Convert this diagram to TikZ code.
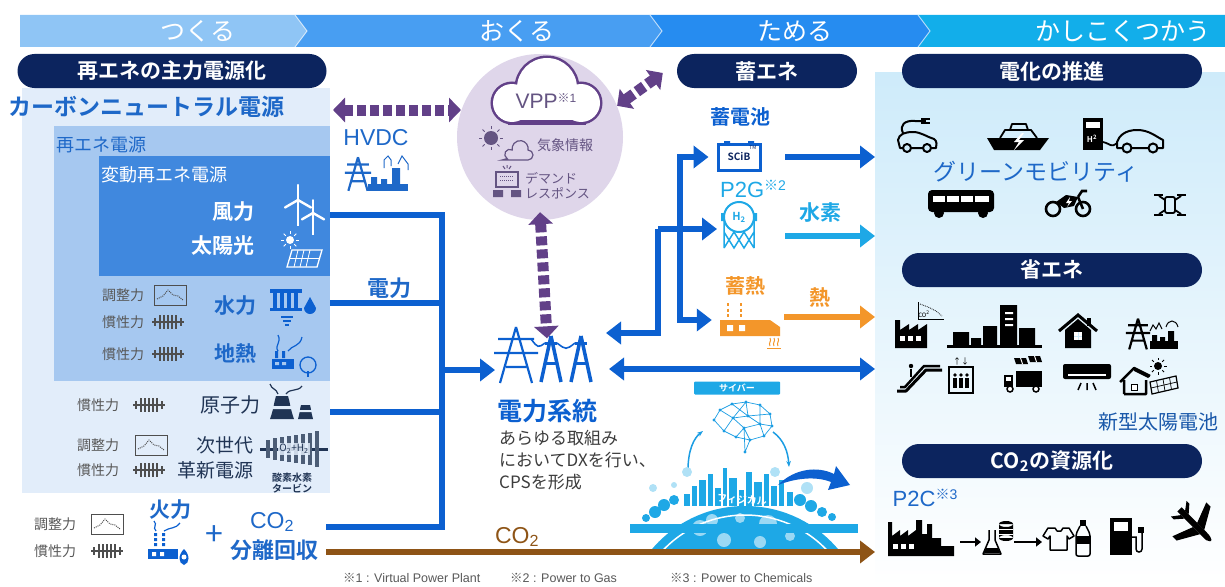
\documentclass[tikz,border=0pt]{standalone}
\usepackage{fontspec}
\setmainfont{Noto Sans CJK JP}[BoldFont={Noto Sans CJK JP Bold}]
\newfontfamily\arial{Liberation Sans}
\usetikzlibrary{arrows.meta, positioning, calc}

\definecolor{pillnavy}{RGB}{12, 36, 94}
\definecolor{gridblue}{RGB}{12, 96, 208}
\definecolor{textblue}{RGB}{30, 104, 200}
\definecolor{skyblue}{RGB}{30, 168, 230}
\definecolor{heatorange}{RGB}{243, 150, 42}
\definecolor{co2brown}{RGB}{142, 84, 22}
\definecolor{vppurple}{RGB}{98, 64, 136}
\definecolor{vpplight}{RGB}{223, 214, 234}
\definecolor{vpptext}{RGB}{100, 84, 130}
\definecolor{panelpale}{RGB}{226, 237, 250}
\definecolor{panelmid}{RGB}{166, 200, 240}
\definecolor{paneldeep}{RGB}{64, 136, 222}
\definecolor{bandA}{RGB}{143, 197, 245}
\definecolor{bandB}{RGB}{72, 158, 242}
\definecolor{bandC}{RGB}{38, 140, 240}
\definecolor{bandD}{RGB}{18, 174, 234}
\definecolor{usetop}{RGB}{206, 235, 250}
\definecolor{labelgray}{RGB}{88, 88, 88}
\definecolor{icongray}{RGB}{78, 78, 78}
\definecolor{nucnavy}{RGB}{32, 52, 84}
\definecolor{bodytext}{RGB}{60, 60, 60}

\newcommand{\fsz}[1]{\fontsize{#1}{#1}\selectfont}
\newcommand{\kome}{{\rmfamily ※}}

\tikzset{
  pill/.style={fill=pillnavy, text=white, rounded corners=17pt,
    minimum height=34pt, inner sep=0pt, font=\fsz{21}\bfseries},
  stage/.style={text=white, font=\fsz{25}},
  power/.style={draw=gridblue, line width=6pt},
  flow/.style={power, -{Triangle[length=15pt, width=22pt]}},
  flows/.style={power, {Triangle[length=15pt, width=22pt]}-{Triangle[length=15pt, width=22pt]}},
  h2flow/.style={flow, draw=skyblue, fill=skyblue},
  heatflow/.style={flow, draw=heatorange, fill=heatorange},
  co2flow/.style={flow, draw=co2brown, fill=co2brown},
  vpplink/.style={draw=vppurple, line width=11pt, dash pattern=on 9pt off 4pt,
    {Triangle[length=12pt, width=24pt]}-{Triangle[length=12pt, width=24pt]}},
  keytext/.style={text=labelgray, font=\fsz{14}, anchor=west, inner sep=0pt},
  srcblue/.style={text=textblue, font=\fsz{21}\bfseries},
  note/.style={text=labelgray, font=\arial\fsz{12.5}, anchor=west, inner sep=0pt},
  pics/inertia/.style={code={
    \draw[icongray, line width=1.2pt] (-16,0) -- (16,0);
    \draw[icongray, line width=2.2pt] (-13,-4) -- (-13,4) (13,-4) -- (13,4);
    \foreach \dx in {-8,-4,0,4,8}
      \draw[icongray, line width=2.2pt] (\dx,-7) -- (\dx,7);
  }},
  pics/trend/.style={code={
    \draw[icongray, line width=1pt] (-16,-10) rectangle (16,10);
    \draw[icongray, line width=1pt, densely dotted] (-13,4) -- (-7,1) -- (-2,-5) -- (3,0) -- (8,1) -- (13,5);
  }},
  pics/pylon/.style={code={
    \draw[line width=2.2pt] (0,-14) -- (-8,14) (0,-14) -- (8,14)
      (-9,-8) -- (9,-8) (-11,-1) -- (11,-1) (-5,6) -- (5,6);
  }},
}

\begin{document}
\begin{tikzpicture}[x=1pt, y=-1pt]
\useasboundingbox (0,0) rectangle (1225,586);

% stage band
\fill[bandD] (918,15) -- (1225,15) -- (1225,47) -- (918,47) -- (930,31) -- cycle;
\fill[bandC] (650,15) -- (918,15) -- (930,31) -- (918,47) -- (650,47) -- (662,31) -- cycle;
\fill[bandB] (295,15) -- (650,15) -- (662,31) -- (650,47) -- (295,47) -- (307,31) -- cycle;
\fill[bandA] (20,15) -- (295,15) -- (307,31) -- (295,47) -- (20,47) -- cycle;
\foreach \bx in {295, 650, 918}
  \draw[white, opacity=0.6, line width=1pt] (\bx,15) -- (\bx+12,31) -- (\bx,47);
\node[stage] (make) at (198,31) {つくる};
\node[stage] (send) at (517,31) {おくる};
\node[stage] (store) at (795,31) {ためる};
\node[stage] (use) at (1123,31) {かしこくつかう};

% panels
\node[top color=usetop, bottom color=white, anchor=north west, minimum width=350, minimum height=514, inner sep=0] (usepanel) at (875,72) {};
\node[fill=panelpale, anchor=north west, minimum width=308, minimum height=405, inner sep=0] (cn) at (22,88) {};
\node[fill=panelmid, anchor=north west, minimum width=276, minimum height=255, inner sep=0] (rene) at (54,126) {};
\node[fill=paneldeep, anchor=north west, minimum width=231, minimum height=120, inner sep=0] (vre) at (99,156) {};

\node[pill, minimum width=309] (mainstream) at (172,71) {再エネの主力電源化};
\node[pill, minimum width=180] (storage) at (767,71) {蓄エネ};
\node[pill, minimum width=300] (electrify) at (1052,71) {電化の推進};
\node[pill, minimum width=300] (saving) at (1052,270) {省エネ};
\node[pill, minimum width=300] (co2use) at (1052,461) {CO\textsubscript{2}の資源化};

% generation side
\node[text=textblue, font=\fsz{23}\bfseries, anchor=west, inner sep=0] (cn title) at (8,107) {カーボンニュートラル電源};
\node[text=textblue, font=\fsz{18}, anchor=west, inner sep=0] (rene title) at (56,145) {再エネ電源};
\node[text=white, font=\fsz{18}, anchor=west, inner sep=0] (vre title) at (101,175) {変動再エネ電源};
\node[text=white, font=\fsz{21}\bfseries, anchor=east] (wind txt) at (258,212) {風力};
\node[text=white, font=\fsz{21}\bfseries, anchor=east] (pv txt) at (258,246) {太陽光};

\foreach \tx/\ty/\s in {298/200/1, 313/213/0.85} {
  \draw[white, line width=2pt] (\tx,\ty) -- ++(0,26*\s);
  \foreach \a in {270, 30, 150}
    \draw[white, line width=2.4pt, line cap=round] (\tx,\ty) -- ++(\a:15*\s);
}
\begin{scope}[white]
  \fill (290,240) circle (4);
  \foreach \a in {0,45,...,315} \draw[line width=1pt] (290,240) ++(\a:6) -- ++(\a:3);
  \draw[line width=1.3pt] (292,250) -- (322,250) -- (317,267) -- (287,267) -- cycle;
  \foreach \gx in {298,304,310} \draw[line width=0.8pt] (\gx,250) -- (\gx-4,267);
  \draw[line width=0.8pt] (290,258) -- (320,258);
\end{scope}

\node[keytext] at (102,295) {調整力};  \pic at (170,295) {trend};
\node[keytext] at (102,322) {慣性力};  \pic at (168,322) {inertia};
\node[keytext] at (102,354) {慣性力};  \pic at (168,354) {inertia};
\node[srcblue] (hydro txt) at (235,306) {水力};
\node[srcblue] (geo txt) at (235,354) {地熱};

\begin{scope}[shift={(290,308)}, gridblue]
  \fill (-20,-19) rectangle (12,-15);
  \foreach \gx in {-17,-10,-3,4} \fill (\gx,-15) rectangle ++(4,15);
  \fill (-20,0) rectangle (12,3);
  \fill (20,-11) -- (14,0) arc (180:0:6) -- cycle;
  \draw[line width=1.4pt] (-9,9) -- (3,9) (-7,13) -- (1,13) (-5,17) -- (-1,17);
\end{scope}
\begin{scope}[shift={(292,355)}, gridblue]
  \draw[line width=1.2pt] (-14,-4) .. controls (-18,-10) and (-10,-12) .. (-14,-20)
    (-4,-4) .. controls (0,-10) and (8,-8) .. (10,-18);
  \fill (-20,4) rectangle (2,14);
  \fill (-17,-4) rectangle (-14,3) (-10,-4) rectangle (-7,3);
  \fill[panelmid] (-17,7) rectangle (-13,10) (-10,7) rectangle (-6,10);
  \draw[line width=1.3pt] (16,10) circle (8);
  \draw[line width=1.3pt] (16,16) -- (16,22);
\end{scope}

\node[keytext] at (77,405) {慣性力};  \pic at (149,405) {inertia};
\node[text=nucnavy, font=\fsz{20}] (nuke txt) at (230,405) {原子力};
\begin{scope}[shift={(292,402)}, nucnavy]
  \fill (-22,17) .. controls (-18,6) and (-18,0) .. (-16,-6) -- (-4,-6) .. controls (-2,0) and (-2,6) .. (2,17) -- cycle;
  \fill (6,17) .. controls (8,10) and (8,6) .. (9,3) -- (18,3) .. controls (19,6) and (19,10) .. (21,17) -- cycle;
  \fill[panelpale] (-20,4) rectangle (0,7) (7,8) rectangle (20,10);
  \draw[line width=1.2pt] (-14,-8) .. controls (-16,-14) and (-20,-12) .. (-22,-18)
    (-6,-8) .. controls (-2,-14) and (6,-10) .. (10,-16);
\end{scope}

\node[keytext] at (77,445) {調整力};  \pic at (151,445) {trend};
\node[keytext] at (77,470) {慣性力};  \pic at (149,470) {inertia};
\node[text=nucnavy, font=\fsz{19}, anchor=east] at (257,445) {次世代};
\node[text=nucnavy, font=\fsz{19}, anchor=east] at (257,470) {革新電源};
\begin{scope}[shift={(292,449)}]
  \draw[nucnavy, line width=3pt] (-32,0) -- (36,0);
  \foreach \i/\h in {0/9,1/11,2/12,3/13,4/14,5/15,6/16,7/18}
    \fill[nucnavy!80!white] (-26+7*\i,-\h) rectangle (-22+7*\i,\h);
  \node[fill=panelpale, fill opacity=0.85, text opacity=1, text=nucnavy, font=\fsz{10}, inner sep=1pt] at (2,0) {O\textsubscript{2}+H\textsubscript{2}};
\end{scope}
\node[text=nucnavy, font=\fsz{10}\bfseries, inner sep=0] at (292,478) {酸素水素};
\node[text=nucnavy, font=\fsz{10}\bfseries, inner sep=0] at (292,489) {タービン};

\node[keytext] at (34,524) {調整力};  \pic at (107,524) {trend};
\node[keytext] at (34,551) {慣性力};  \pic at (107,551) {inertia};
\node[srcblue] (fire txt) at (170,510) {火力};
\begin{scope}[shift={(168,545)}, gridblue]
  \draw[line width=1.2pt] (-12,-14) .. controls (-16,-18) and (-10,-20) .. (-14,-24)
    (-4,-14) .. controls (2,-18) and (8,-16) .. (12,-22);
  \foreach \cx in {-14,-6} \fill (\cx,-12) rectangle ++(3,3) (\cx,-7) rectangle ++(3,3) (\cx,-2) rectangle ++(3,3);
  \fill (-20,4) rectangle (10,14);
  \fill[white] (-16,7) rectangle (-12,11) (-8,7) rectangle (-4,11);
  \fill (16,4) .. controls (22,10) and (22,18) .. (16,20) .. controls (10,18) and (10,10) .. (16,4);
  \fill[white] (16,12) circle (2.5);
\end{scope}
\node[text=textblue, font=\fsz{32}] at (214,536) {+};
\node[text=textblue, font=\arial\fsz{23}] at (272,522) {CO\textsubscript{2}};
\node[srcblue, font=\fsz{22}\bfseries] (ccs txt) at (274,550) {分離回収};

% power lines into the grid
\coordinate (feed wind) at (330,215);
\coordinate (feed hydro) at (330,303);
\coordinate (feed nuke) at (330,412);
\coordinate (feed fire) at (326,527);
\coordinate (bus top) at (442,215);
\coordinate (bus bottom) at (442,527);
\coordinate (bus out) at (442,370);
\coordinate (grid in) at (495,370);
\draw[power] (feed wind) -- (bus top) -- (bus bottom) -- (feed fire);
\draw[power] (feed hydro) -- (feed hydro -| bus top);
\draw[power] (feed nuke) -- (feed nuke -| bus top);
\draw[flow] (bus out) -- (grid in);
\node[srcblue, font=\fsz{22}\bfseries] (power txt) at (389,288) {電力};

% HVDC
\node[text=textblue, font=\arial\fsz{23}] (hvdc) at (376,138) {HVDC};
\pic[textblue, scale=1.2] at (358,174) {pylon};
\begin{scope}[textblue]
  \fill (368,184) rectangle (408,191);
  \fill (371,177) rectangle (377,184) (381,179) rectangle (387,184) (392,168) rectangle (400,184);
  \draw[line width=1pt] (384,168) -- (384,160) -- (388,156) -- (391,160) -- (391,166)
    (398,164) -- (402,156) -- (408,164) -- (408,170);
\end{scope}

% VPP
\node[circle, fill=vpplight, minimum size=166, inner sep=0] (vpp) at (540,137) {};
\begin{scope}
  \filldraw[vppurple, line width=5pt] (512,103) circle (19) (581,103) circle (19) (547,88) circle (30);
  \fill[vppurple] (508,100) rectangle (586,125);
  \fill[white] (512,103) circle (19) (581,103) circle (19) (547,88) circle (30);
  \fill[white] (512,103) rectangle (581,120);
\end{scope}
\node[text=vpptext, font=\arial\fsz{21}] (vpp txt) at (546,101) {VPP\raisebox{6pt}{\fsz{12}\kome 1}};
\begin{scope}[vpptext]
  \fill (491,138) circle (7);
  \foreach \a in {0,45,...,315} \draw[line width=1pt] (491,138) ++(\a:9) -- ++(\a:3);
  \filldraw[fill=vpplight, line width=1.2pt] (502,160) -- (528,160) arc (90:-90:5) arc (10:-190:8) arc (-60:-240:5) -- cycle;
\end{scope}
\node[text=vpptext, font=\fsz{14}, anchor=west, inner sep=0] (weather) at (537,145) {気象情報};
\begin{scope}[vpptext]
  \draw[line width=1.5pt] (496,172) rectangle (518,187);
  \foreach \dy in {176,180} \draw[densely dotted, line width=1pt] (500,\dy) -- (514,\dy);
  \draw[line width=1pt] (503,166) -- (505,169) (507,165) -- (507,168) (511,166) -- (509,169);
  \fill (493,190) rectangle (503,197) (511,190) rectangle (521,197);
\end{scope}
\node[text=vpptext, font=\fsz{13}, anchor=west, inner sep=0] at (525,178) {デマンド};
\node[text=vpptext, font=\fsz{13}, anchor=west, inner sep=0] at (525,193) {レスポンス};

% grid
\node[minimum width=92, minimum height=55, inner sep=0] (grid) at (547,354) {};
\pic[gridblue, scale=2] at (516,355) {pylon};
\begin{scope}[gridblue, line width=3.5pt]
  \foreach \px in {551,581} {
    \draw (\px,336) -- (\px-10,382) (\px,336) -- (\px+10,382);
    \draw[line width=3pt] (\px-6,343) -- (\px+6,343) (\px-7,363) -- (\px+7,363);
  }
  \draw[line width=1.6pt] (531,339) .. controls (538,348) .. (545,343)
    (557,343) .. controls (566,350) .. (575,343);
\end{scope}
\node[text=gridblue, font=\fsz{25}\bfseries] (grid txt) at (547,411) {電力系統};
\node[text=bodytext, font=\fontsize{17}{22}\selectfont, align=left, anchor=north west, inner sep=0] (dx txt) at (499,430)
  {あらゆる取組み\\においてDXを行い、\\CPSを形成};

\draw[vpplink] (333,110) -- (461,110);
\draw[vpplink] ([yshift=8]vpp.south) -- ([yshift=-12]grid.north);
\draw[vpplink] (vpp.22) -- ([xshift=-14,yshift=-2]storage.west);

% storage
\node[text=gridblue, font=\fsz{20}\bfseries] (battery txt) at (740,117) {蓄電池};
\node[draw=gridblue, line width=3pt, minimum width=42, minimum height=26, inner sep=0, text=pillnavy, font=\fsz{10}\bfseries] (scib) at (739,157) {SCiB};
\fill[gridblue] (724,141) rectangle (730,144) (748,141) rectangle (754,144);
\node[text=pillnavy, font=\fsz{5}, inner sep=0] at (753,148) {TM};
\node[text=skyblue, font=\arial\fsz{22}] (p2g txt) at (753,189) {P2G\raisebox{7pt}{\fsz{14}\kome 2}};
\node[circle, draw=skyblue, line width=2pt, minimum size=30, inner sep=0, text=skyblue, font=\fsz{11}\bfseries] (tank) at (739,217) {H\textsubscript{2}};
\draw[skyblue, line width=1.5pt] (724,220) -- (724,248) (754,220) -- (754,248)
  (724,248) -- (734,232) -- (744,248) -- (754,232) (724,232) -- (734,248) -- (744,232) -- (754,248);
\fill[skyblue] (721,213) rectangle (724,221) (754,213) rectangle (757,221);
\node[text=heatorange, font=\fsz{20}\bfseries] (heat store txt) at (745,286) {蓄熱};
\node[minimum width=60, minimum height=36, inner sep=0] (heatplant) at (749,320) {};
\begin{scope}[heatorange]
  \fill (720,320) -- (770,320) -- (780,327) -- (780,336) -- (720,336) -- cycle;
  \fill[white] (727,325) rectangle (733,331) (739,325) rectangle (745,331);
  \foreach \cx in {728,741} \draw[line width=2.5pt, dash pattern=on 3pt off 2.5pt] (\cx,303) -- (\cx,319);
  \draw[line width=1pt] (767,348) -- (781,348);
  \foreach \wx in {770,774,778}
    \draw[line width=1pt] (\wx,346) .. controls (\wx-2,343) and (\wx+2,341) .. (\wx,338);
\end{scope}

\coordinate (store fork) at (658,229);
\coordinate (store bus) at (680,229);
\coordinate (grid back) at (606,333);
\draw[flow] (store fork) |- (grid back);
\draw[power, line cap=rect] (store bus |- scib) -- (store bus |- heatplant);
\draw[flow] (store fork) -- ([xshift=-6]tank.west |- store fork);
\draw[flow] (store bus |- scib) -- ([xshift=-8]scib.west);
\draw[flow] (store bus |- heatplant) -- ([xshift=-7]heatplant.west);

\coordinate (battery out) at (785,157);
\coordinate (h2 out) at (785,236);
\coordinate (heat out) at (784,317);
\draw[flow] (battery out) -- (battery out -| usepanel.west);
\draw[h2flow] (h2 out) -- (h2 out -| usepanel.west);
\draw[heatflow] (heat out) -- (heat out -| usepanel.west);
\node[text=skyblue, font=\fsz{21}\bfseries] (h2 txt) at (820,213) {水素};
\node[text=heatorange, font=\fsz{21}\bfseries] (heat txt) at (820,298) {熱};
\coordinate (grid side) at (609,369);
\draw[flows] (grid side) -- (grid side -| usepanel.west);

% cyber physical loop
\node[fill=skyblue, text=white, font=\fsz{9}\bfseries, minimum width=86, minimum height=13, inner sep=0, rounded corners=1pt] (cyber) at (737,388) {サイバー};
\begin{scope}[skyblue!85!gridblue]
  \foreach \n/\p in {b1/{714,420}, b2/{720,410}, b3/{732,404}, b4/{746,402}, b5/{760,405},
      b6/{770,414}, b7/{772,426}, b8/{764,436}, b9/{750,440}, b10/{736,437}, b11/{724,431},
      b12/{733,418}, b13/{748,416}, b14/{760,424}, b15/{744,428}, b16/{745,452}}
    \coordinate (\n) at (\p);
  \draw[line width=0.7pt] (b1) -- (b2) -- (b3) -- (b4) -- (b5) -- (b6) -- (b7) -- (b8) -- (b9) -- (b10) -- (b11) -- (b1)
    (b2) -- (b12) -- (b4) -- (b13) -- (b6) (b12) -- (b13) -- (b14) -- (b7) (b12) -- (b15) -- (b14)
    (b11) -- (b12) (b3) -- (b13) (b5) -- (b14) (b15) -- (b10) (b15) -- (b9) (b14) -- (b8) (b9) -- (b16) (b15) -- (b16);
  \foreach \n in {b1,b2,b3,b4,b5,b6,b7,b8,b9,b10,b11,b12,b13,b14,b15,b16}
    \fill (\n) circle (1.6);
  \draw[line width=1.5pt, -{Stealth[length=6pt]}] (688,470) .. controls (688,450) and (694,438) .. (703,431);
  \draw[line width=1.5pt, -{Stealth[length=6pt]}] (773,432) .. controls (784,440) and (788,452) .. (789,467);
\end{scope}
\begin{scope}
  \clip (620,440) rectangle (870,548);
  \fill[skyblue] (745,628) circle (122);
  \fill[skyblue!45!white] (700,528) circle (8) (712,520) circle (6) (740,518) circle (5) (768,524) circle (9)
    (724,540) circle (7) (760,542) circle (6) (790,536) circle (5);
  \draw[white, line width=1.5pt] (745,628) circle (113);
\end{scope}
\fill[skyblue] (630,524) rectangle (858,533);
\begin{scope}[skyblue]
  \foreach \bx/\by/\bw in {684/494/6, 692/486/5, 699/480/7, 708/474/5, 715/488/6, 723/468/4, 729/478/8,
      739/490/5, 746/472/6, 754/482/8, 764/474/5, 771/486/6, 779/480/5, 787/492/6}
    \fill (\bx,506) rectangle ++(\bw,\by-506);
  \fill (655,512) circle (6) (664,505) circle (6) (674,500) circle (5) (800,500) circle (6) (811,506) circle (6)
    (822,512) circle (5) (832,517) circle (4) (646,518) circle (4);
  \fill[skyblue!35!white] (653,488) circle (4) (674,485) circle (3) (687,472) circle (5) (775,472) circle (5) (807,488) circle (6);
\end{scope}
\node[text=white, font=\fsz{10}\bfseries, inner sep=0, rotate=-4] (physical) at (742,500) {フィジカル};
\fill[gridblue] (778,485) .. controls (795,468) and (818,466) .. (834,474) -- (836,466) -- (850,485) -- (828,490) -- (831,482)
  .. controls (816,476) and (796,478) .. cycle;

% CO2 line
\coordinate (feed co2) at (326,552);
\draw[co2flow] (feed co2) -- (feed co2 -| usepanel.west);
\node[text=co2brown, font=\arial\fsz{23}] (co2 txt) at (517,537) {CO\textsubscript{2}};

% usage side
\begin{scope}[shift={(917,135)}, line width=2pt, line join=round]
  \draw (-17,13) -- (-19,5) .. controls (-18,-1) and (-12,-3) .. (-4,-3) .. controls (4,-3) and (10,2) .. (17,4) .. controls (20,6) and (20,10) .. (19,13) -- cycle;
  \filldraw[fill=usetop] (-10,13) circle (4) (10,13) circle (4);
  \draw (-14,-2) .. controls (-18,-10) and (-12,-15) .. (-2,-14) -- (4,-14);
  \fill (4,-17) rectangle (9,-11);
  \draw[line width=1.5pt] (9,-16) -- (13,-16) (9,-12) -- (13,-12);
\end{scope}
\begin{scope}[shift={(1018,136)}, line join=round]
  \fill (-31,2) -- (31,2) -- (22,14) -- (-24,14) -- cycle;
  \draw[line width=1.8pt] (-18,2) -- (-13,-6) -- (13,-6) -- (19,2);
  \draw[line width=1.8pt] (-8,-6) -- (-6,-12) -- (8,-12) -- (10,-6);
  \fill[white] (4,-3) -- (-4,6) -- (1,6) -- (-4,14) -- (6,4) -- (1,4) -- (6,-3) -- cycle;
\end{scope}
\begin{scope}[shift={(1093,134)}]
  \fill (-10,-16) rectangle (10,16);
  \fill[white] (-7,-12) rectangle (7,-6);
  \node[text=white, font=\fsz{8}\bfseries, inner sep=0] at (-1,5) {H\textsuperscript{2}};
  \draw[line width=1.8pt] (10,8) .. controls (18,10) and (18,14) .. (24,9);
  \draw[line width=2pt, line join=round] (24,14) -- (24,8) .. controls (26,2) and (32,-4) .. (44,-4) .. controls (56,-4) and (62,2) .. (70,6) -- (70,14) -- cycle;
  \filldraw[fill=usetop, line width=2pt] (34,14) circle (4.5) (60,14) circle (4.5);
\end{scope}
\node[text=textblue, font=\fsz{23}] (mobility) at (1036,172) {グリーンモビリティ};
\begin{scope}[shift={(961,203)}]
  \fill[rounded corners=4pt] (-33,-13) rectangle (33,9);
  \fill[white] (-28,-7) rectangle (28,-1);
  \foreach \wx in {-16,-2,12} \fill (\wx,-8) rectangle ++(2,8);
  \fill (-22,10) circle (5) (22,10) circle (5);
\end{scope}
\begin{scope}[shift={(1068,204)}, line width=2.6pt]
  \draw (-15,5) circle (7) (15,5) circle (7);
  \fill (-12,-2) -- (-2,-9) -- (10,-7) -- (6,2) -- (-4,4) -- cycle;
  \draw (10,-7) -- (14,-13) -- (19,-13) (15,5) -- (10,-7);
  \fill[white] (2,-7) -- (-2,-1) -- (1,-1) -- (-1,3) -- (4,-3) -- (1,-3) -- cycle;
\end{scope}
\begin{scope}[shift={(1170,205)}, line width=1.8pt]
  \draw[rounded corners=2pt] (-5,-8) rectangle (5,8);
  \draw (-5,-5) -- (-11,-9) (5,-5) -- (11,-9) (-5,5) -- (-11,9) (5,5) -- (11,9);
  \draw (-16,-10) -- (-7,-10) (7,-10) -- (16,-10) (-16,10) -- (-7,10) (7,10) -- (16,10);
\end{scope}

\begin{scope}[shift={(916,332)}]
  \fill (-21,16) -- (-21,-12) -- (-16,-12) -- (-16,-2) -- (-7,-8) -- (-7,-2) -- (2,-8) -- (2,-2) -- (11,-8) -- (11,16) -- cycle;
  \foreach \wx in {-16,-8,0} \fill[white] (\wx,4) rectangle ++(5,5);
  \draw[line width=0.8pt] (2,-30) -- (2,-13) -- (28,-13);
  \draw[line width=0.8pt, densely dotted] (4,-28) -- (12,-25) -- (20,-21) -- (26,-16);
  \node[font=\fsz{6}, inner sep=0] at (8,-18) {CO\textsuperscript{2}};
\end{scope}
\begin{scope}[shift={(995,332)}]
  \fill (-48,13) rectangle (47,16);
  \fill (-42,0) rectangle (-26,13) (-24,6) rectangle (-14,13) (-12,-6) rectangle (2,13)
    (5,-27) rectangle (22,13) (24,-4) rectangle (40,13);
  \fill[white] (10,-20) rectangle (18,-18) (10,-14) rectangle (18,-12) (10,-8) rectangle (18,-6);
\end{scope}
\begin{scope}[shift={(1078,332)}]
  \draw[line width=3pt, line join=miter] (-19,-1) -- (0,-17) -- (19,-1);
  \fill (-13,-2) -- (0,-13) -- (13,-2) -- (13,16) -- (-13,16) -- cycle;
  \fill[white] (-4,0) rectangle (4,8);
  \draw[usetop, line width=1pt] (0,0) -- (0,8) (-4,4) -- (4,4);
  \fill (9,-14) rectangle (13,-6);
\end{scope}
\pic[scale=1.1] at (1138,334) {pylon};
\begin{scope}[shift={(1162,335)}]
  \fill (-12,6) rectangle (16,14);
  \fill (-10,0) rectangle (-5,6) (-2,2) rectangle (3,6) (6,-4) rectangle (12,6);
  \draw[line width=1pt] (-12,-4) -- (-9,-10) -- (-6,-6) -- (-3,-12) -- (0,-6)
    (4,-8) .. controls (6,-16) and (14,-16) .. (16,-8);
\end{scope}

\begin{scope}[shift={(920,378)}]
  \draw[line width=3pt, line join=round] (-23,13) -- (-14,13) -- (6,-8) -- (22,-8);
  \draw[line width=2.5pt, line join=round] (-20,9) -- (-15,9) -- (4,-12) -- (20,-12);
  \fill (-9,-12) circle (2.2);
  \draw[line width=1.5pt] (-9,-9) -- (-9,-1);
\end{scope}
\begin{scope}[shift={(961,380)}]
  \draw[line width=1.5pt] (-12,-13) rectangle (12,13);
  \foreach \fx in {-6,0,6} {
    \fill (\fx,-5) circle (1.8);
    \fill (\fx-2,-2) rectangle (\fx+2,8);
  }
  \node[font=\fsz{8}, inner sep=0] at (0,-19) {↑↓};
\end{scope}
\begin{scope}[shift={(1024,375)}]
  \fill (-8,-4) rectangle (18,12);
  \fill (-20,0) -- (-11,0) -- (-11,12) -- (-20,12) -- cycle;
  \fill[white] (-18,2) rectangle (-13,6);
  \filldraw[fill=white, line width=1.5pt] (-14,14) circle (3) (12,14) circle (3);
  \fill (-10,-17) -- (2,-17) -- (4,-11) -- (-8,-11) -- cycle (4,-19) -- (16,-19) -- (18,-13) -- (6,-13) -- cycle;
  \fill[white] (-4,-17) -- (-2,-11) -- (-1,-11) -- (-3,-17) -- cycle (10,-19) -- (12,-13) -- (13,-13) -- (11,-19) -- cycle;
\end{scope}
\begin{scope}[shift={(1087,373)}]
  \fill[rounded corners=2pt] (-24,-9) rectangle (24,6);
  \fill[white] (-19,1) rectangle (19,3);
  \draw[line width=1.5pt] (-6,10) -- (-9,17) (0,10) -- (0,17) (6,10) -- (9,17);
\end{scope}
\begin{scope}[shift={(1146,378)}]
  \draw[line width=2.5pt, line join=round] (-22,16) -- (-22,2) (-26,4) -- (-12,-10) -- (4,-2) (-22,16) -- (0,16) -- (0,2);
  \fill (-12,-10) -- (4,-2) -- (2,0) -- (-12,-7) -- cycle;
  \fill[white] (-15,6) rectangle (-9,12);
  \draw[line width=1pt] (-15,6) rectangle (-9,12);
  \draw[line width=1.2pt] (4,4) -- (30,-2) -- (32,10) -- (6,16) -- cycle;
  \foreach \t in {0.25,0.5,0.75} \draw[line width=0.7pt] ($(4,4)!\t!(30,-2)$) -- ($(6,16)!\t!(32,10)$);
  \draw[line width=0.7pt] ($(4,4)!0.5!(6,16)$) -- ($(30,-2)!0.5!(32,10)$);
  \fill (12,-12) circle (4);
  \foreach \a in {0,45,...,315} \draw[line width=0.8pt] (12,-12) ++(\a:6) -- ++(\a:2.5);
\end{scope}
\node[text=textblue!85!black, font=\fsz{20}] (new pv) at (1158,422) {新型太陽電池};

\node[text=textblue, font=\arial\fsz{22}] (p2c txt) at (925,498) {P2C\raisebox{7pt}{\fsz{14}\kome 3}};
\begin{scope}[shift={(921,540)}]
  \fill (-33,16) -- (-33,-18) -- (-29,-18) -- (-29,-4) -- (-21,-10) -- (-21,-4) -- (-13,-10) -- (-13,-4) -- (-5,-10) -- (-5,-20) -- (1,-20) -- (1,-6) -- (6,-6) -- (6,-16) -- (11,-16) -- (11,-2) -- (20,-2) -- (20,6) -- (33,6) -- (33,16) -- cycle;
  \foreach \wx in {-28,-20,-12} \fill[white] (\wx,4) rectangle ++(5,5);
\end{scope}
\draw[line width=2.5pt, -{Triangle[length=6pt, width=9pt]}] (960,542) -- (981,542);
\begin{scope}[shift={(998,540)}]
  \draw[line width=1.5pt, line join=round] (-9,-10) -- (-9,0) -- (-15,14) -- (3,14) -- (-3,0) -- (-3,-10);
  \fill (-12,8) -- (0,8) -- (2,13) -- (-14,13) -- cycle;
  \fill (8,-16) ellipse (7 and 3) (1,-16) rectangle (15,-2) (8,-2) ellipse (7 and 3);
  \draw[white, line width=1pt] (1,-11) -- (15,-11) (1,-6) -- (15,-6);
\end{scope}
\draw[line width=2.5pt, -{Triangle[length=6pt, width=9pt]}] (1014,542) -- (1042,542);
\begin{scope}[shift={(1059,540)}, line width=1.5pt, line join=round]
  \draw (-11,-12) -- (-4,-12) -- (-2,-9) -- (2,-9) -- (4,-12) -- (10,-12) -- (15,-4) -- (10,-1) -- (8,-4) -- (8,10) -- (-9,10) -- (-9,-4) -- (-11,-1) -- (-16,-4) -- cycle;
\end{scope}
\begin{scope}[shift={(1083,540)}]
  \fill (-3,-20) rectangle (3,-14);
  \draw[line width=1.5pt, rounded corners=2pt] (-3,-14) -- (-7,-6) -- (-7,16) -- (7,16) -- (7,-6) -- (3,-14);
  \fill (-7,-4) rectangle (7,4);
\end{scope}
\begin{scope}[shift={(1126,537)}]
  \fill (-16,-19) rectangle (6,18);
  \fill[white] (-12,-15) rectangle (2,-6);
  \draw[line width=1.5pt] (6,0) -- (10,0) -- (10,12) .. controls (10,16) and (16,16) .. (16,12) -- (16,-4) -- (13,-8);
  \fill (12,-10) rectangle (18,-4);
\end{scope}
\begin{scope}[shift={(1195,525)}, rotate=-45]
  \fill (-22,-3) -- (14,-3) .. controls (22,-3) and (24,0) .. (22,1) .. controls (20,3) and (18,3) .. (14,3) -- (-22,3) -- cycle;
  \fill (0,-3) -- (-8,-24) -- (-2,-24) -- (10,-3) -- cycle;
  \fill (0,3) -- (-8,24) -- (-2,24) -- (10,3) -- cycle;
  \fill (-17,-3) -- (-23,-11) -- (-19,-11) -- (-12,-3) -- cycle;
  \fill (-17,3) -- (-23,11) -- (-19,11) -- (-12,3) -- cycle;
\end{scope}

% notes
\node[note] at (343,578) {\kome 1 : Virtual Power Plant};
\node[note] at (510,578) {\kome 2 : Power to Gas};
\node[note] at (670,578) {\kome 3 : Power to Chemicals};
\end{tikzpicture}
\end{document}
